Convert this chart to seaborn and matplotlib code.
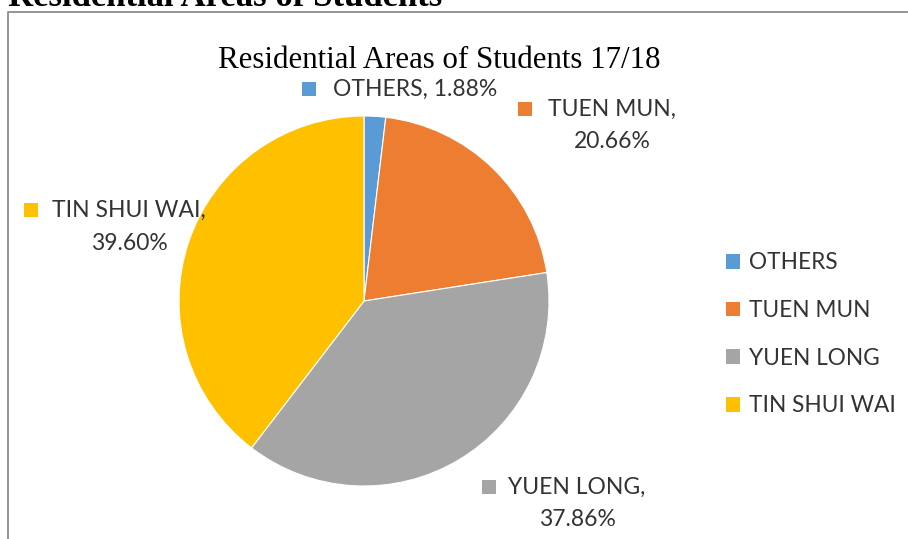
import matplotlib
matplotlib.use("Agg")
import matplotlib.pyplot as plt
from matplotlib.patches import Patch
import seaborn as sns

# data
areas = ["OTHERS", "TUEN MUN", "YUEN LONG", "TIN SHUI WAI"]
shares = [1.88, 20.66, 37.86, 39.60]
colors = ["#5B9BD5", "#ED7D31", "#A5A5A5", "#FFC000"]
label_text = ["OTHERS, 1.88%", "TUEN MUN,\n20.66%", "YUEN LONG,\n37.86%", "TIN SHUI WAI,\n39.60%"]

sns.set_theme(style="white")
plt.rcParams['font.family'] = ['Lato', 'DejaVu Sans']

W, H = 908, 539
fig = plt.figure(figsize=(W / 100, H / 100), dpi=100)
ax = fig.add_axes([0, 0, 1, 1])

wedges, _ = ax.pie(shares, colors=colors, startangle=90, counterclock=False,
                   center=(364, H - 301), radius=185,
                   wedgeprops=dict(edgecolor='white', linewidth=0.8))

# pie() resets the limits, so set the pixel frame afterwards
ax.set_xlim(0, W)
ax.set_ylim(0, H)
ax.set_aspect('equal')
ax.axis('off')

# chart frame (continues past right / bottom edges)
ax.plot([8, 8, W + 5], [-5, H - 12, H - 12], color='#8c8c8c', lw=1.3, solid_capstyle='butt')

# clipped page heading above the chart
fig.text(8 / W, 1 - 6 / H, "Residential Areas of Students", family='Liberation Serif',
         fontweight='bold', fontsize=25, color='black', va='baseline', ha='left')

# chart title
ax.text(439, H - 68, "Residential Areas of Students 17/18", family='Liberation Serif',
        fontsize=22.2, color='black', ha='center', va='baseline')

txt_color = '#333333'
# data labels: (marker x, marker y, text center x, first line y)
label_pos = [(309, 89, 415, 89), (525, 109, 612, 109), (489, 487, 577, 487), (31, 210, 129, 210)]
for (mx, my, tx, ty), txt, c in zip(label_pos, label_text, colors):
    ax.scatter([mx], [H - my], marker='s', s=90, color=c, linewidths=0)
    lines = txt.split('\n')
    ax.text(tx, H - ty, lines[0], ha='center', va='center', fontsize=16.5, color=txt_color)
    if len(lines) > 1:
        ax.text(tx, H - ty - 33, lines[1], ha='center', va='center', fontsize=16.5, color=txt_color)

handles = [Patch(facecolor=c, edgecolor='none') for c in colors]
leg = ax.legend(handles, areas, loc='upper left', bbox_to_anchor=(715 / W, 1 - 241 / H),
                frameon=False, fontsize=16.3, handlelength=0.62, handleheight=0.62,
                handletextpad=0.4, labelspacing=1.18, borderpad=0)
for t in leg.get_texts():
    t.set_color(txt_color)

fig.savefig("out.png", dpi=100)
